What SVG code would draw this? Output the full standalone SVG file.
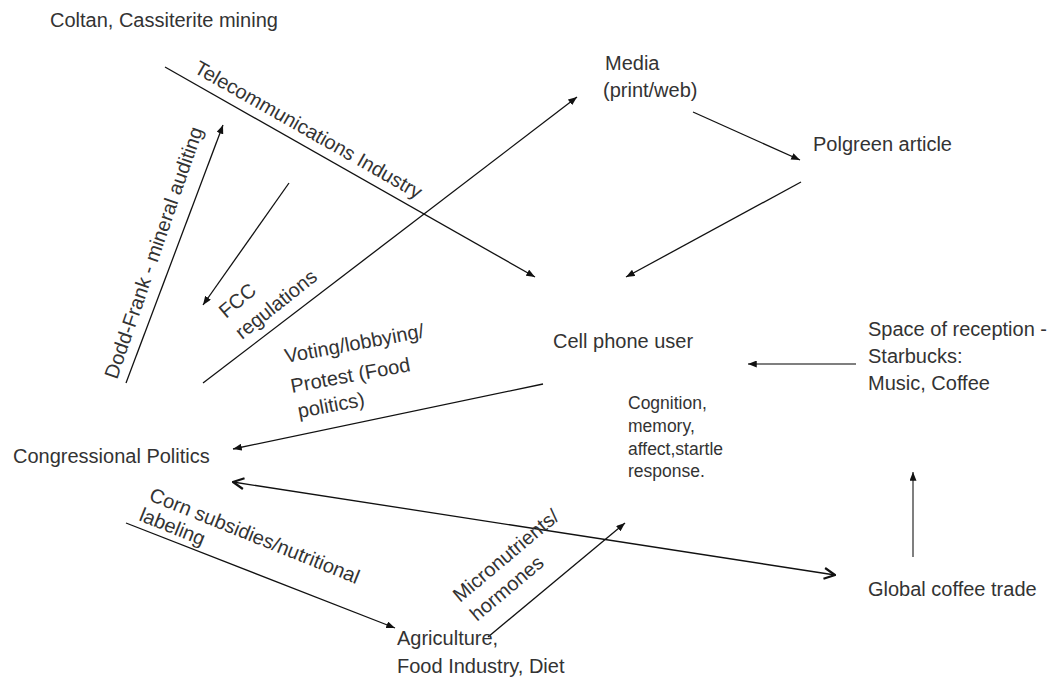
<svg xmlns="http://www.w3.org/2000/svg" width="1056" height="685" viewBox="0 0 1056 685">
<style>
text{font-family:"Liberation Sans",Arial,sans-serif;fill:#333;font-size:20px}
.small{font-size:17.5px}
.ln{stroke:#111;stroke-width:1.3;fill:none}
.gr{stroke:#555;stroke-width:1.5;fill:none}
</style>
<defs>
<marker id="ah" viewBox="0 0 10 8" refX="10" refY="4" markerWidth="9" markerHeight="7" orient="auto" markerUnits="userSpaceOnUse">
<path d="M0,0 L10,4 L0,8 z" fill="#111"/>
</marker>
<marker id="oh" viewBox="0 0 12 12" refX="11" refY="6" markerWidth="13" markerHeight="13" orient="auto-start-reverse" markerUnits="userSpaceOnUse">
<path d="M1,1 L11,6 L1,11" fill="none" stroke="#111" stroke-width="2"/>
</marker>
</defs>
<rect width="1056" height="685" fill="#fff"/>
<g id="connectors">
<line class="ln" x1="165" y1="67" x2="535" y2="277" marker-end="url(#ah)"/>
<line class="ln" x1="203" y1="383" x2="577" y2="97" marker-end="url(#ah)"/>
<line class="ln" x1="693" y1="112" x2="800" y2="160" marker-end="url(#ah)"/>
<line class="ln" x1="801" y1="182" x2="626" y2="277" marker-end="url(#ah)"/>
<line class="ln" x1="289" y1="183" x2="203" y2="305" marker-end="url(#ah)"/>
<line class="ln" x1="126" y1="383" x2="223" y2="125" marker-end="url(#ah)"/>
<line class="ln" x1="543" y1="384" x2="233" y2="449" marker-end="url(#ah)"/>
<line class="gr" x1="856" y1="364" x2="748" y2="364" marker-end="url(#ah)"/>
<line class="gr" x1="913" y1="557" x2="913" y2="472" marker-end="url(#ah)"/>
<line class="ln" x1="233" y1="482" x2="835" y2="575" marker-start="url(#oh)" marker-end="url(#oh)"/>
<line class="ln" x1="126" y1="523" x2="395" y2="628" marker-end="url(#ah)"/>
<line class="ln" x1="488" y1="637" x2="625" y2="523" marker-end="url(#ah)"/>
<text transform="translate(193,72) rotate(29.6)">Telecommunications Industry</text>
<text transform="translate(117,380) rotate(-71)">Dodd-Frank - mineral auditing</text>
<text transform="translate(226,319) rotate(-40)">FCC</text>
<text transform="translate(242,340) rotate(-38.5)">regulations</text>
<text transform="translate(286,363) rotate(-10.5)">Voting/lobbying/</text>
<text transform="translate(292,393) rotate(-10.5)">Protest (Food</text>
<text transform="translate(299,418) rotate(-10.5)">politics)</text>
<text transform="translate(148,500) rotate(22)">Corn subsidies/nutritional</text>
<text transform="translate(138,520) rotate(22)">labeling</text>
<text transform="translate(460,603) rotate(-40)">Micronutrients/</text>
<text transform="translate(477,622) rotate(-40)">hormones</text>
</g>
<g id="coltan"><text x="50" y="27">Coltan, Cassiterite mining</text></g>
<g id="media"><text x="605" y="70">Media</text><text x="603" y="97">(print/web)</text></g>
<g id="polgreen"><text x="813" y="151">Polgreen article</text></g>
<g id="cellphone"><text x="553" y="348">Cell phone user</text></g>
<g id="cognition" class="small">
<text class="small" x="628" y="409">Cognition,</text>
<text class="small" x="628" y="432">memory,</text>
<text class="small" x="628" y="455">affect,startle</text>
<text class="small" x="628" y="477">response.</text>
</g>
<g id="starbucks"><text x="868" y="336">Space of reception -</text><text x="868" y="363">Starbucks:</text><text x="868" y="390">Music, Coffee</text></g>
<g id="congress"><text x="13" y="463">Congressional Politics</text></g>
<g id="coffee"><text x="868" y="596">Global coffee trade</text></g>
<g id="agriculture"><text x="397" y="645">Agriculture,</text><text x="397" y="673">Food Industry, Diet</text></g>
</svg>
